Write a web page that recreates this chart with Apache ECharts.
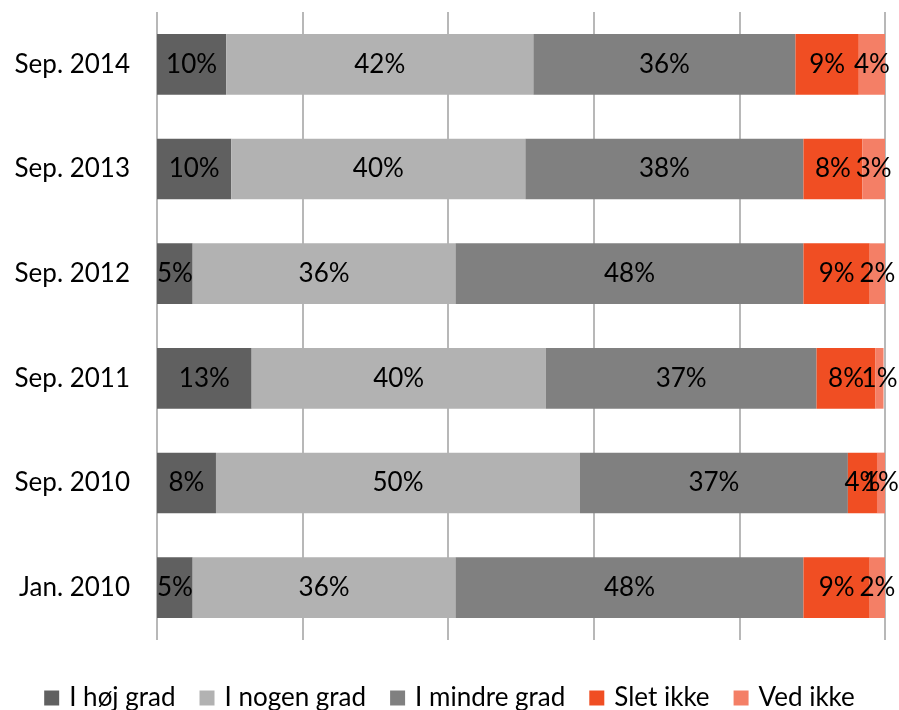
<!DOCTYPE html>
<html><head><meta charset="utf-8">
<script src="https://cdn.jsdelivr.net/npm/echarts@6/dist/echarts.min.js"></script>
<style>html,body{margin:0;padding:0;background:#fff}#c{width:899px;height:710px}</style>
</head><body><div id="c"></div>
<script>
const categories = ["Sep. 2014", "Sep. 2013", "Sep. 2012", "Sep. 2011", "Sep. 2010", "Jan. 2010"];
const seriesNames = ["I høj grad", "I nogen grad", "I mindre grad", "Slet ikke", "Ved ikke"];
const hojGrad    = [9.5, 10.2, 4.9, 13.0, 8.1, 4.9];
const nogenGrad  = [42.2, 40.4, 36.1, 40.4, 50.0, 36.1];
const mindreGrad = [36.0, 38.2, 47.8, 37.2, 36.8, 47.8];
const sletIkke   = [8.7, 8.1, 9.1, 8.1, 4.0, 9.1];
const vedIkke    = [3.7, 3.2, 2.1, 1.1, 1.1, 2.1];
const colors = ["#606060", "#b2b2b2", "#808080", "#f04e23", "#f47f66"];
const allData = [hojGrad, nogenGrad, mindreGrad, sletIkke, vedIkke];
const FONT = "Lato";
const FS = 26;
const chart = echarts.init(document.getElementById('c'), null, {renderer: 'canvas'});
chart.setOption({
  animation: false,
  textStyle: {fontFamily: FONT},
  grid: {left: 157, right: 14, top: 12, bottom: 70, containLabel: false},
  legend: {
    top: 680, left: 'center', itemWidth: 15, itemHeight: 15, itemGap: 24,
    icon: 'rect',
    textStyle: {fontSize: FS, color: '#000', fontFamily: FONT, padding: [0, 0, 0, 5]},
    data: seriesNames
  },
  xAxis: {
    type: 'value', min: 0, max: 100, interval: 20,
    axisLabel: {show: false}, axisLine: {show: false}, axisTick: {show: false},
    splitLine: {show: true, lineStyle: {color: '#a0a0a0', width: 1.5}}
  },
  yAxis: {
    type: 'category', data: categories, inverse: true,
    axisLine: {show: false}, axisTick: {show: false},
    axisLabel: {fontSize: FS, color: '#000', margin: 27, fontFamily: FONT}
  },
  series: allData.map((d, i) => ({
    name: seriesNames[i], type: 'bar', stack: 'total', data: d,
    barCategoryGap: '42%',
    itemStyle: {color: colors[i]},
    label: {
      show: true, position: 'inside', fontSize: FS, color: '#000', fontFamily: FONT,
      formatter: p => Math.round(p.value) + '%'
    }
  }))
});
</script></body></html>
